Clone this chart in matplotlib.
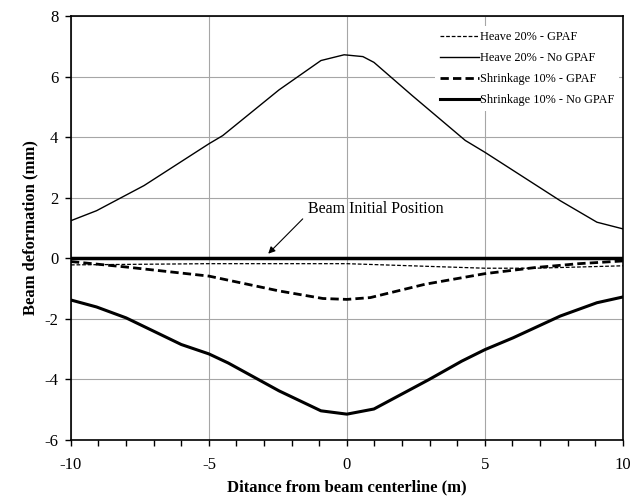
import matplotlib.pyplot as plt
import matplotlib as mpl
from matplotlib.ticker import MultipleLocator

mpl.rcParams['font.family'] = 'Liberation Serif'
mpl.rcParams['font.size'] = 11.0
mpl.rcParams['axes.unicode_minus'] = False

# Heave 20% - No GPAF
x_heave = [-10, -9.07, -7.35, -5, -4.5, -2.46, -0.94, -0.1, 0.58, 0.98, 2.37, 4.29, 5, 7.73, 9.06, 10]
y_heave = [1.24, 1.57, 2.4, 3.78, 4.05, 5.56, 6.53, 6.72, 6.66, 6.47, 5.37, 3.89, 3.5, 1.9, 1.19, 0.97]

# Heave 20% - GPAF
x_heave_gpaf = [-10, -5, 0, 5, 6.8, 10]
y_heave_gpaf = [-0.22, -0.18, -0.18, -0.33, -0.33, -0.25]

# Shrinkage 10% - GPAF
x_shr_gpaf = [-10, -8, -5, -2.46, -0.87, 0, 0.85, 2.83, 5, 6.8, 8.4, 10]
y_shr_gpaf = [-0.11, -0.29, -0.59, -1.08, -1.33, -1.36, -1.30, -0.86, -0.51, -0.31, -0.18, -0.09]

# Shrinkage 10% - No GPAF
x_shr = [-10, -9.07, -8, -6, -5, -4.3, -2.46, -0.94, 0, 0.98, 2.17, 2.97, 4.16, 5, 6.02, 7.73, 9.06, 10]
y_shr = [-1.38, -1.61, -1.97, -2.85, -3.16, -3.46, -4.38, -5.04, -5.15, -4.98, -4.4, -4.01, -3.40, -3.02, -2.63, -1.91, -1.47, -1.28]

fig = plt.figure(figsize=(6.33, 5.01), dpi=100)
ax = fig.add_axes([0.112, 0.122, 0.872, 0.846])

ax.grid(True, which='major', color='#a6a6a6', lw=0.8)
ax.set_axisbelow(True)

ax.plot(x_heave_gpaf, y_heave_gpaf, color='black', lw=0.9, ls=(0, (3, 1.5)), label='Heave 20% - GPAF')
ax.plot(x_heave, y_heave, color='black', lw=1.0, label='Heave 20% - No GPAF')
ax.plot(x_shr_gpaf, y_shr_gpaf, color='black', lw=2.0, ls=(0, (3, 1.5)), label='Shrinkage 10% - GPAF')
ax.plot(x_shr, y_shr, color='black', lw=2.2, label='Shrinkage 10% - No GPAF')
ax.axhline(0, color='black', lw=2.5, zorder=3)

# Beam initial position label and arrow
ax.text(-1.4, 1.62, 'Beam Initial Position', ha='left', va='center', fontsize=11.5)
ax.annotate('', xy=(-2.85, 0.15), xytext=(-1.6, 1.3),
            arrowprops=dict(arrowstyle='-|>', color='black', lw=0.8, shrinkA=0, shrinkB=0,
                            mutation_scale=10))

ax.set_xlim(-10, 10)
ax.set_ylim(-6, 8)
ax.xaxis.set_major_locator(MultipleLocator(5))
ax.xaxis.set_minor_locator(MultipleLocator(1))
ax.yaxis.set_major_locator(MultipleLocator(2))
ax.tick_params(which='both', direction='out', length=4, width=1, labelsize=12)
ax.tick_params(axis='x', which='major', pad=8)
ax.tick_params(axis='y', which='major', pad=5)
for s in ax.spines.values():
    s.set_linewidth(1.2)

ax.set_xlabel('Ditance from beam centerline (m)', fontweight='bold', fontsize=12, labelpad=5)
ax.set_ylabel('Beam deformation (mm)', fontweight='bold', fontsize=12, labelpad=4)

leg = ax.legend(loc='upper right', bbox_to_anchor=(1.0, 0.985), fontsize=8.8, handlelength=3.2,
                handletextpad=0.1, labelspacing=0.75, borderaxespad=0.3, frameon=True,
                fancybox=False)
leg.get_frame().set_edgecolor('none')
leg.get_frame().set_facecolor('white')
leg.get_frame().set_alpha(1)

fig.savefig('out.png', dpi=100)
